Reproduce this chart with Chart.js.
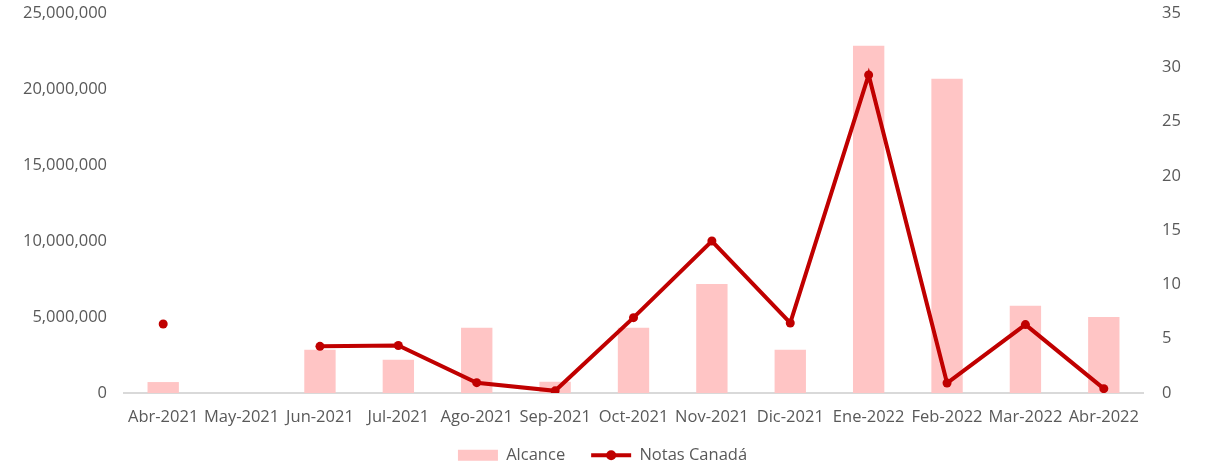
<!DOCTYPE html>
<html>
<head>
<meta charset="utf-8">
<script src="https://cdn.jsdelivr.net/npm/chart.js@4.4.1/dist/chart.umd.min.js"></script>
<style>
  html, body { margin: 0; padding: 0; background: #ffffff; }
  #wrap { width: 1205px; height: 466px; position: relative; }
</style>
</head>
<body>
<div id="wrap"><canvas id="c" width="1205" height="466"></canvas></div>
<script>
const categories = ["Abr-2021","May-2021","Jun-2021","Jul-2021","Ago-2021","Sep-2021","Oct-2021","Nov-2021","Dic-2021","Ene-2022","Feb-2022","Mar-2022","Abr-2022"];
const alcance = [720000, 0, 2850000, 2190000, 4300000, 740000, 4300000, 7170000, 2850000, 22850000, 20680000, 5740000, 5000000];
const notasCanada = [6.36, null, 4.3, 4.38, 0.95, 0.2, 6.94, 14.0, 6.45, 29.3, 0.92, 6.3, 0.4];
const leftTicks = [0, 5000000, 10000000, 15000000, 20000000, 25000000];
const rightTicks = [0, 5, 10, 15, 20, 25, 30, 35];

const FONT = "'Open Sans', 'Liberation Sans', sans-serif";
const FS = 16.5;
const TXT = '#595959';
const RED = '#C00000';
const PINK = '#FFC5C5';

const legendDot = {
  id: 'legendDot',
  afterDraw(chart) {
    const lg = chart.legend;
    if (!lg || !lg.legendHitBoxes || lg.legendHitBoxes.length < 2) return;
    const hb = lg.legendHitBoxes[1];
    const ctx = chart.ctx;
    const cx = hb.left + 40 / 2;
    const cy = hb.top + hb.height / 2;
    ctx.save();
    ctx.fillStyle = RED;
    ctx.beginPath();
    ctx.arc(cx, cy, 5, 0, Math.PI * 2);
    ctx.fill();
    ctx.restore();
  }
};

function noVPad(scale) { scale.paddingTop = 0; scale.paddingBottom = 0; }

new Chart(document.getElementById('c'), {
  type: 'bar',
  data: {
    labels: categories,
    datasets: [
      {
        type: 'line',
        label: 'Notas Canadá',
        data: notasCanada,
        yAxisID: 'y1',
        borderColor: RED,
        backgroundColor: RED,
        borderWidth: 4,
        pointRadius: 4.5,
        pointHoverRadius: 4.5,
        pointBackgroundColor: RED,
        pointBorderWidth: 0,
        spanGaps: false,
        tension: 0,
        order: 0
      },
      {
        type: 'bar',
        label: 'Alcance',
        data: alcance,
        yAxisID: 'y',
        backgroundColor: PINK,
        borderWidth: 0,
        barPercentage: 0.4,
        categoryPercentage: 1.0,
        order: 1
      }
    ]
  },
  options: {
    responsive: false,
    animation: false,
    layout: { padding: { left: 0, right: 0, top: 13, bottom: 0 } },
    plugins: {
      tooltip: { enabled: false },
      legend: {
        position: 'bottom',
        reverse: true,
        maxHeight: 45,
        labels: {
          color: TXT,
          font: { family: FONT, size: FS },
          boxWidth: 40,
          boxHeight: 11,
          padding: 26,
          usePointStyle: true,
          pointStyleWidth: 40,
          generateLabels(chart) {
            const items = Chart.defaults.plugins.legend.labels.generateLabels(chart);
            items.forEach(it => {
              if (it.text === 'Alcance') {
                it.pointStyle = 'rect';
                it.fillStyle = PINK;
                it.strokeStyle = PINK;
                it.lineWidth = 0;
              } else {
                it.pointStyle = 'line';
                it.strokeStyle = RED;
                it.lineWidth = 4;
              }
            });
            return items;
          }
        }
      }
    },
    scales: {
      x: {
        afterFit(scale) { scale.height = 28; scale._computeLabelArea = () => undefined; },
        grid: { display: false, drawTicks: false },
        border: { display: true, color: '#D9D9D9', width: 2 },
        ticks: { color: TXT, font: { family: FONT, size: FS }, maxRotation: 0, autoSkip: false, padding: 14 }
      },
      y: {
        position: 'left',
        min: 0, max: 25000000,
        afterBuildTicks(scale) { scale.ticks = leftTicks.map(v => ({ value: v })); },
        afterFit(scale) { scale.width = 124; noVPad(scale); },
        grid: { display: false, drawTicks: false },
        border: { display: false },
        ticks: {
          color: TXT, font: { family: FONT, size: FS }, padding: 17,
          callback: v => Number(v).toLocaleString('en-US')
        }
      },
      y1: {
        position: 'right',
        min: 0, max: 35,
        afterBuildTicks(scale) { scale.ticks = rightTicks.map(v => ({ value: v })); },
        afterFit(scale) { scale.width = 62; noVPad(scale); },
        grid: { display: false, drawTicks: false },
        border: { display: false },
        ticks: { color: TXT, font: { family: FONT, size: FS }, padding: 19 }
      }
    }
  },
  plugins: [legendDot]
});
</script>
</body>
</html>
